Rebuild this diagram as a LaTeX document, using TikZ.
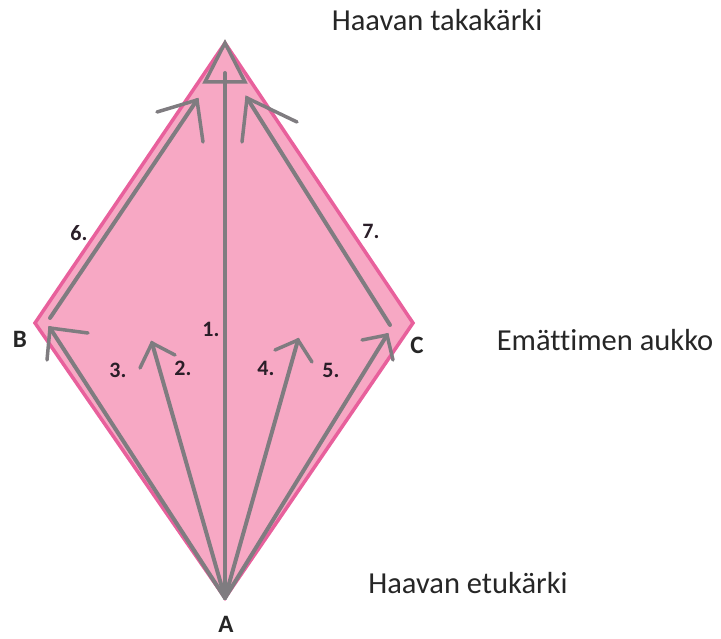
\documentclass[tikz,border=0pt]{standalone}
\usepackage{fontspec}
\setmainfont{Carlito}[Ligatures={NoCommon}]
\begin{document}
\begin{tikzpicture}[x=1pt,y=-1pt,
  kite/.style={draw=kiteedge,fill=kitefill,line width=3.5pt,line join=miter},
  arr/.style={draw=arrgray,line width=4pt,line cap=round,line join=round},
  head/.style={draw=arrgray,line width=3.5pt,line cap=round},
  lbl/.style={font=\fontsize{30.5}{33}\selectfont,text=txt,inner sep=0pt},
  vlbl/.style={font=\bfseries\fontsize{25}{27}\selectfont,text=txt,inner sep=0pt},
  nlbl/.style={font=\bfseries\fontsize{22}{24}\selectfont,text=numtxt,inner sep=0pt}]
\definecolor{kitefill}{HTML}{F7A8C4}
\definecolor{kiteedge}{HTML}{E8609C}
\definecolor{arrgray}{HTML}{7F7C80}
\definecolor{txt}{HTML}{262626}
\definecolor{numtxt}{HTML}{2A1E28}
\useasboundingbox (0,0) rectangle (721,639);
% kite vertices
\coordinate (T) at (225,43);
\coordinate (Bv) at (35,323);
\coordinate (Cv) at (413,323);
\coordinate (Av) at (225,598);
\draw[kite] (T) -- (Cv) -- (Av) -- (Bv) -- cycle;
% arrow tips and heads
\coordinate (t1) at (225,73);
\coordinate (h1a) at (205,82);
\coordinate (h1b) at (245,82);
\coordinate (s6) at (50,318);
\coordinate (t6) at (197,100);
\coordinate (h6a) at (157,112);
\coordinate (h6b) at (203,142);
\coordinate (s7) at (390,325);
\coordinate (t7) at (247,98);
\coordinate (h7a) at (297,122);
\coordinate (h7b) at (242,142);
\coordinate (t3) at (50,328);
\coordinate (h3a) at (88,333);
\coordinate (h3b) at (47,360);
\coordinate (t2) at (152,343);
\coordinate (h2a) at (175,355);
\coordinate (h2b) at (140,368);
\coordinate (t4) at (298,340);
\coordinate (h4a) at (275,350);
\coordinate (h4b) at (312,362);
\coordinate (t5) at (387,335);
\coordinate (h5a) at (362,340);
\coordinate (h5b) at (393,360);
% arrow 1 with triangle head
\draw[arr] (Av) -- (t1);
\draw[head,line join=miter] (T) -- (h1b) -- (h1a) -- cycle;
% arrows 2-5 from A
\draw[arr] (Av) -- (t2);
\draw[head] (h2a) -- (t2) -- (h2b);
\draw[arr] (Av) -- (t3);
\draw[head] (h3a) -- (t3) -- (h3b);
\draw[arr] (Av) -- (t4);
\draw[head] (h4a) -- (t4) -- (h4b);
\draw[arr] (Av) -- (t5);
\draw[head] (h5a) -- (t5) -- (h5b);
% arrows 6 and 7
\draw[arr] (s6) -- (t6);
\draw[head] (h6a) -- (t6) -- (h6b);
\draw[arr] (s7) -- (t7);
\draw[head] (h7a) -- (t7) -- (h7b);
% labels
\node[lbl] (ltop) at (437,20) {Haavan takakärki};
\node[lbl] (lmid) at (605,340) {Emättimen aukko};
\node[lbl] (lbot) at (468,583) {Haavan etukärki};
\node[vlbl] (lB) at (20,339) {B};
\node[vlbl] (lC) at (417,345) {C};
\node[vlbl] (lA) at (226,624) {A};
\node[nlbl] (n1) at (211,329) {1.};
\node[nlbl] (n2) at (183,368) {2.};
\node[nlbl] (n3) at (118,370) {3.};
\node[nlbl] (n4) at (266,368) {4.};
\node[nlbl] (n5) at (331,370) {5.};
\node[nlbl] (n6) at (79,233) {6.};
\node[nlbl] (n7) at (371,231) {7.};
\end{tikzpicture}
\end{document}
